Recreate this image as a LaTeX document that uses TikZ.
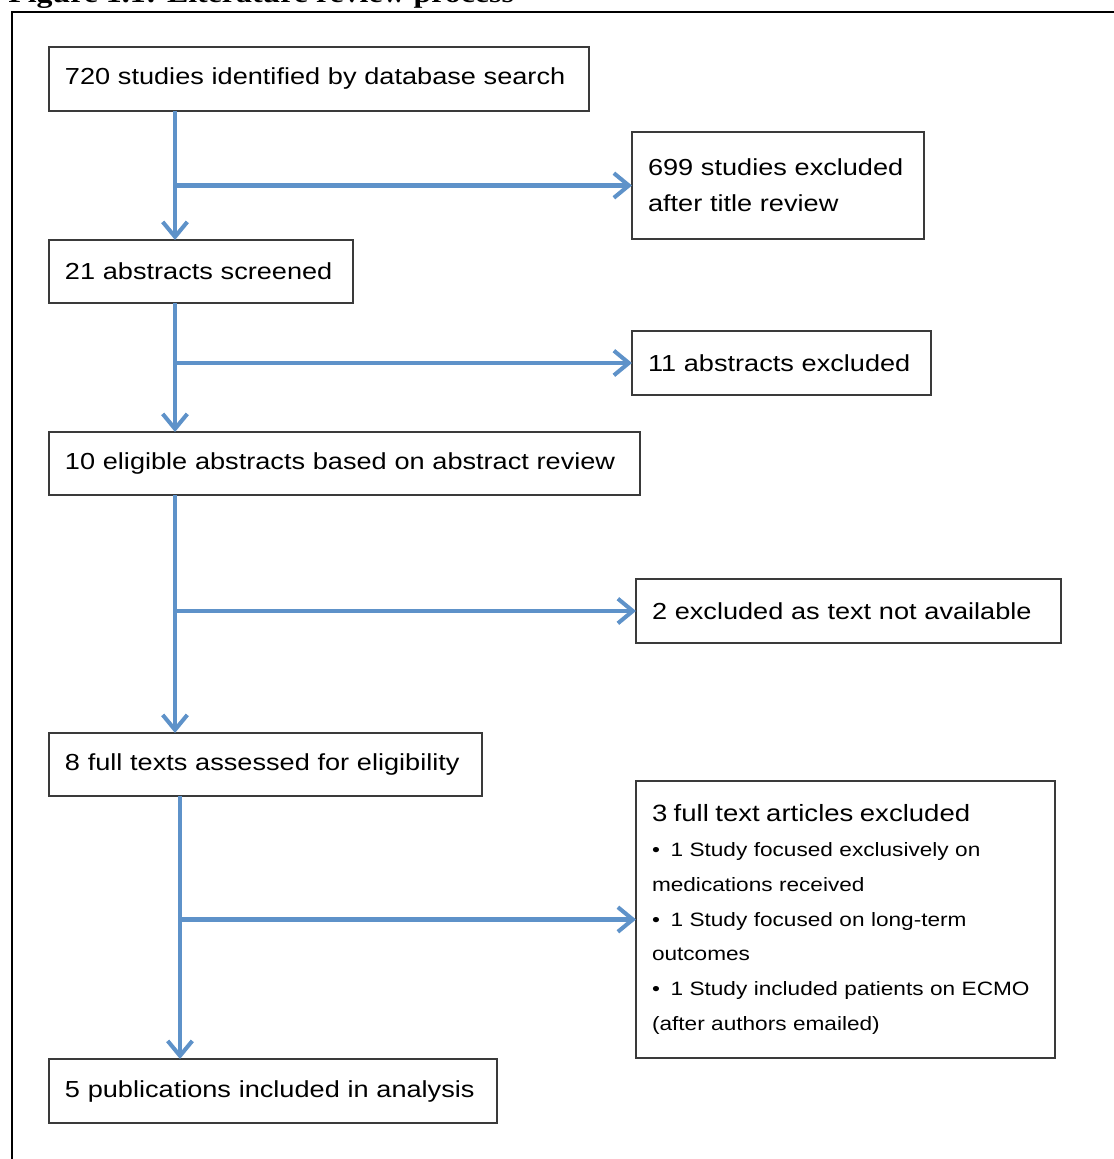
\documentclass[tikz,border=0pt]{standalone}
\usepackage{fontspec}
\setmainfont{Liberation Sans}[FakeStretch=1.17]
\newfontfamily\capfont{Liberation Serif}[FakeStretch=1.17]
\usetikzlibrary{arrows.meta}
\usetikzlibrary{positioning}
\definecolor{flowblue}{RGB}{94,146,201}
\definecolor{boxgray}{RGB}{58,58,58}
\tikzstyle{entry} = [rectangle, draw=boxgray, line width=1.1pt, anchor=north west, outer sep=0pt, inner xsep=0.32cm, align=left, font=\fontsize{13.2}{20.4}\selectfont]
\tikzstyle{flow} = [draw=flowblue, line width=2.3pt, -{Straight Barb[length=8.5pt,width=14pt]}]

\begin{document}
\begin{tikzpicture}[x=0.02cm, y=-0.02cm]
 \useasboundingbox (0,0) rectangle (1113,1159);

 % caption, cut off at the top edge
 \node (caption) [anchor=base west, inner sep=0pt] at (8,3) {\capfont\bfseries\fontsize{15.5}{17}\selectfont Figure 1.1: Literature review process};
 \draw[line width=1.2pt] (12,1180) -- (12,12) -- (1130,12);

 % main column
 \node (b720) [entry, text width=10.16cm, minimum height=1.28cm] at (49,47) {720 studies identified by database search};
 \node (b21) [entry, text width=5.44cm, minimum height=1.26cm] at (49,240) {21 abstracts screened};
 \node (b10) [entry, text width=11.18cm, minimum height=1.26cm] at (49,432) {10 eligible abstracts based on abstract review};
 \node (b8) [entry, text width=8.02cm, minimum height=1.26cm] at (49,733) {8 full texts assessed for eligibility};
 \node (b5) [entry, text width=8.32cm, minimum height=1.28cm] at (49,1059) {5 publications included in analysis};

 % exclusions
 \node (b699) [entry, text width=5.2cm, minimum height=2.14cm] at (632,132) {699 studies excluded\\after title review};
 \node (b11) [entry, text width=5.34cm, minimum height=1.28cm] at (632,331) {11 abstracts excluded};
 \node (b2) [entry, text width=7.86cm, minimum height=1.28cm] at (636,579) {2 excluded as text not available};
 \node (b3) [entry, text width=7.74cm, minimum height=5.54cm, font=\fontsize{11}{19.8}\selectfont] at (636,781) {%
  {\fontsize{13.4}{19.8}\selectfont 3 full text articles excluded}\\
  \textbullet\hspace{0.55em}1 Study focused exclusively on\\
  medications received\\
  \textbullet\hspace{0.55em}1 Study focused on long-term\\
  outcomes\\
  \textbullet\hspace{0.55em}1 Study included patients on ECMO\\
  (after authors emailed)};

 \coordinate (sp1) at (175,0);
 \coordinate (sp2) at (180,0);

 \draw[flow] (b720.south -| sp1) -- (b21.north -| sp1);
 \draw[flow] (sp1 |- b699.west) -- (b699.west);
 \draw[flow] (b21.south -| sp1) -- (b10.north -| sp1);
 \draw[flow] (sp1 |- b11.west) -- (b11.west);
 \draw[flow] (b10.south -| sp1) -- (b8.north -| sp1);
 \draw[flow] (sp1 |- b2.west) -- (b2.west);
 \draw[flow] (b8.south -| sp2) -- (b5.north -| sp2);
 \draw[flow] (sp2 |- b3.west) -- (b3.west);
\end{tikzpicture}
\end{document}
